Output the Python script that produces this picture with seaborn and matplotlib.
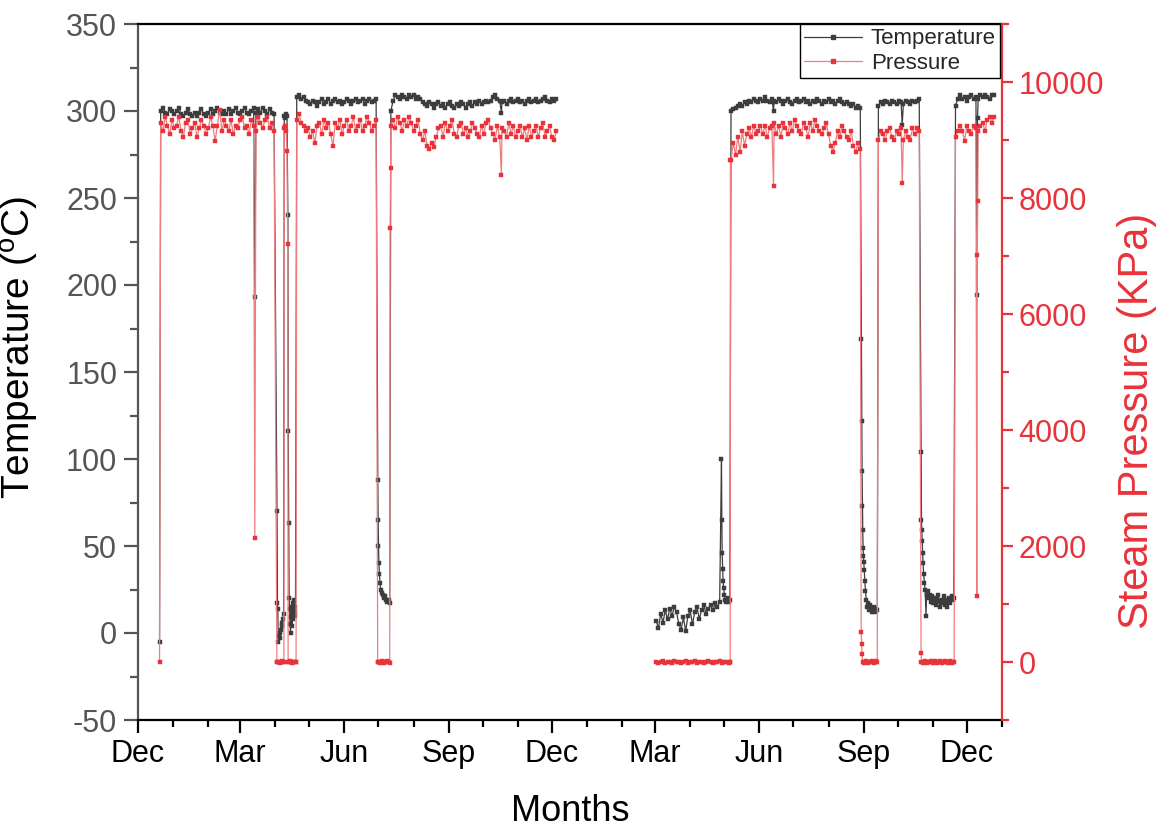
import numpy as np
import pandas as pd
import matplotlib
matplotlib.use("Agg")
import matplotlib.pyplot as plt
import matplotlib.dates as mdates
from matplotlib.ticker import MultipleLocator
from matplotlib.lines import Line2D
import seaborn as sns

# ---------------- data ----------------
base_date = "2018-12-01"

# operating runs, one reading every 2 days
temp_run1 = [300, 302, 299, 298, 301, 300, 298, 300, 302, 298,
             297, 299, 301, 298, 297, 299, 297, 299, 301, 298,
             297, 299, 301, 298, 300, 302, 299, 298, 300, 298,
             301, 298, 300, 302, 299, 298, 300, 302, 299, 298,
             300, 302, 299, 301, 299, 302, 300, 298, 301, 299, 298]
pres_run1 = [9300, 9150, 9400, 9250, 9100, 9350, 9200, 9250, 9400, 9150,
             9050, 9300, 9350, 9100, 9200, 9300, 9050, 9200, 9350, 9250,
             9100, 9200, 9400, 9250, 8980, 9250, 9520, 9150, 9350, 9250,
             9150, 9350, 9100, 9250, 9200, 9350, 9400, 9200, 9250, 9100,
             9350, 9250, 9150, 9400, 9300, 9200, 9350, 9400, 9200, 9300, 9150]

temp_run2 = [308, 309, 307, 308, 306, 305, 304, 306, 305, 303,
             305, 307, 304, 305, 307, 304, 306, 307, 305, 306,
             304, 305, 307, 306, 304, 306, 307, 305, 306, 307,
             304, 306, 307, 305, 306, 307]
pres_run2 = [9350, 9450, 9300, 9250, 9150, 9200, 9050, 9150, 8950, 9250,
             9300, 9100, 9350, 9200, 9300, 9100, 8900, 9300, 9200, 9350,
             9100, 9250, 9350, 9150, 9250, 9400, 9150, 9250, 9350, 9150,
             9250, 9400, 9300, 9150, 9250, 9350]

temp_run3 = [300, 306, 309, 308, 307, 309, 308, 307, 309, 308,
             309, 307, 308, 307, 305, 304, 303, 305, 304, 302,
             304, 305, 303, 304, 302, 304, 305, 303, 302, 304,
             303, 305, 304, 302, 304, 305, 303, 305, 304, 306,
             304, 305, 306, 305, 306, 308, 309, 307, 306, 305,
             306, 304, 306, 307, 305, 306, 307, 305, 306, 304,
             306, 307, 305, 306, 307, 305, 306, 307, 308, 306,
             305, 307, 306, 307]
pres_run3 = [9250, 9350, 9200, 9400, 9300, 9150, 9350, 9250, 9400, 9300,
             9150, 9250, 9350, 9100, 9000, 9150, 8900, 8850, 8950, 8880,
             9050, 9200, 9250, 9050, 9300, 9150, 9250, 9350, 9100, 9050,
             9250, 9300, 9100, 9200, 9050, 9150, 9300, 9200, 9100, 9050,
             9250, 9100, 9300, 9350, 9200, 9100, 9000, 9250, 9050, 9200,
             9150, 9050, 9300, 9100, 9250, 9050, 9150, 9250, 9050, 9200,
             9000, 9250, 9050, 9150, 9250, 9050, 9200, 9300, 9050, 9150,
             9250, 9050, 9000, 9150]

temp_cold20 = [7, 3, 11, 6, 13, 8, 14, 10, 15, 12,
               5, 2, 9, 1, 10, 13, 5, 12, 15, 8,
               13, 16, 11, 14, 16, 13, 17, 15, 18]
pres_cold20 = [0, -20, 0, 10, -10, 0, 0, -20, 10, 0,
               0, -10, 0, 10, -20, 0, 0, 10, -10, 0,
               0, -20, 0, 10, 0, -10, 0, 0, 10, -20,
               0, 0, -10]

temp_run4 = [300, 301, 302, 303, 304, 303, 305, 304, 306, 305,
             307, 306, 305, 307, 306, 308, 306, 305, 307, 306,
             305, 307, 306, 304, 306, 307, 305, 304, 306, 307,
             305, 306, 307, 305, 306, 304, 306, 305, 307, 306,
             304, 306, 305, 307, 305, 306, 304, 306, 307, 305,
             304, 305, 304, 303, 304, 302, 303, 302]
pres_run4 = [8650, 8950, 8750, 9050, 8800, 9150, 8900, 9100, 9200, 9050,
             9250, 9100, 9150, 9250, 9100, 9250, 9050, 9200, 9250, 9300,
             9100, 9250, 9050, 9300, 9200, 9100, 9300, 9150, 9350, 9250,
             9150, 9100, 9300, 9200, 9050, 9300, 9150, 9350, 9250, 9150,
             9100, 9200, 9300, 9100, 8900, 8800, 8950, 9150, 9050, 9250,
             9150, 9050, 9000, 9150, 8900, 8800, 8950, 8850]

temp_run5 = [303, 305, 304, 306, 305, 304, 306, 305, 304, 306,
             305, 304, 306, 305, 304, 306, 305, 306, 307]
pres_run5 = [9000, 9150, 9100, 9000, 9150, 9200, 9050, 9000, 9150, 9100,
             9200, 9000, 9150, 9050, 9000, 9200, 9100, 9200, 9150]

temp_run6 = [303, 307, 309, 307, 308, 306, 308, 309, 307, 308,
             307, 309, 308, 309, 308, 307, 309, 309]
pres_run6 = [9050, 9150, 9250, 9150, 8990, 9250, 9150, 9100, 9250, 9200,
             9150, 9250, 9300, 9150, 9350, 9400, 9300, 9400]

# shutdown pressures, one reading a day
pres_off1 = [0, 0, -20, 0, 10, 0]
pres_off2 = [0, 10, 0, -10, 0, 0, 0]
pres_off3 = [0, -10, 0, 10, 0, -20, 0, 0, 10, 0, -10]
pres_off4 = [0, -10, 0, 10, 0, -20, 0, 0, 10, 0, -10, 0, 10, 0]
pres_off5 = [0, -10, 0, 10, 0, -20, 0, 0, 10, 0, -10, 0, 10, 0, -20,
             0, 10, 0, -10, 0, 0, 10, 0, -20, 0, 10, 0, -10, 0]

# start dates of the regular series
temp_run_starts = ["2018-12-21", "2019-04-20", "2019-07-12", "2020-03-02",
                   "2020-05-07", "2020-09-14", "2020-11-21"]
pres_run_starts = ["2018-12-21", "2019-04-20", "2019-07-12", "2020-03-02",
                   "2020-05-07", "2020-09-14", "2020-11-21"]
pres_off_starts = ["2019-04-03", "2019-04-13", "2019-07-01", "2020-08-31", "2020-10-22"]

# transients (day offsets from base_date)
temp_evt_day = [19, 103,
                122.6, 123.0, 123.3, 123.7, 124.2, 124.8, 125.4, 126.0, 126.6, 127.2, 127.8, 128.4,
                129.0, 129.8, 130.6, 131.4, 132.2, 132.5, 132.9, 133.3,
                133.7, 134.1, 134.5, 134.9, 135.3, 135.7, 136.1, 136.5, 136.9, 137.3, 137.7,
                138.1, 138.5, 138.9,
                211.5, 211.8, 212.1, 212.5, 212.9, 213.4, 214, 215, 216, 217, 218, 219, 220, 221, 222,
                320.5,
                514.6, 514.9, 515.2, 515.6, 516.0, 516.5, 517.2, 518, 519, 520, 521, 522,
                560.5,
                638.0, 638.3, 638.6, 638.9, 639.2, 639.5, 639.8, 640.1, 640.5, 641.0, 641.6,
                642.3, 643, 644, 645, 646, 647, 648, 649, 650, 651, 652,
                674,
                690.7, 691.0, 691.3, 691.6, 692.0, 692.4, 692.9, 693.5, 694.2, 695, 695.5,
                696.5, 697.5, 698.5, 699.5, 700.5, 701.5, 702.5, 703.5, 704.5, 705.5, 706.5,
                707.5, 708.5, 709.5, 710.5, 711.5, 712.5, 713.5, 714.5, 715.5, 716.5, 717.5,
                718.5, 719.5,
                740, 740.4]
temp_evt_val = [-5, 193,
                70, 17, 14, -5, -2, 0, -3, 2, 4, 6, 8, 11,
                297, 296, 298, 297, 240, 116, 63, 20,
                14, 5, 0, 9, 15, 4, 11, 17, 8, 13, 19,
                10, 15, 12,
                88, 65, 50, 40, 34, 29, 25, 23, 22, 20, 21, 19, 18, 19, 17,
                299,
                100, 65, 46, 37, 30, 26, 22, 19, 18, 20, 18, 19,
                300,
                169, 122, 93, 73, 59, 49, 44, 41, 36, 30, 24,
                19, 15, 17, 13, 16, 12, 14, 15, 12, 14, 13,
                292,
                104, 65, 59, 53, 46, 40, 34, 29, 25, 10, 22,
                24, 20, 22, 18, 21, 17, 20, 16, 19, 22, 18,
                15, 19, 17, 21, 16, 19, 15, 18, 20, 17, 21,
                19, 20,
                194, 296]

pres_evt_day = [19, 103,
                122.5, 128.7, 129.0, 129.8, 130.6, 131.4, 132.0, 132.4, 139.4,
                211.4, 222.4, 222.7,
                320.5,
                521.8, 522.3, 522.5,
                560.5,
                637.8, 638.2, 638.6,
                674,
                690.6, 719.8,
                739.8, 740.2, 740.6]
pres_evt_val = [0, 2130,
                0, 0, 9200, 9250, 9150, 8810, 7200, 0, 0,
                0, 7490, 8520,
                8400,
                0, 0, 8650,
                8210,
                520, 310, 140,
                8260,
                150, 0,
                1130, 7020, 7950]

# ---------------- assemble ----------------
base = pd.Timestamp(base_date)


def assemble(runs, evt_day, evt_val):
    frames = []
    for start, step, vals in runs:
        d = pd.date_range(start, periods=len(vals), freq=f"{step}D")
        frames.append(pd.DataFrame({"date": d, "value": vals}))
    frames.append(pd.DataFrame({"date": base + pd.to_timedelta(evt_day, unit="D"),
                                "value": evt_val}))
    df = pd.concat(frames).sort_values("date").reset_index(drop=True)
    df["seg"] = np.where(df["date"] < pd.Timestamp("2020-01-01"), 0, 1)
    return df


temp_vals = [temp_run1, temp_run2, temp_run3, temp_cold20, temp_run4, temp_run5, temp_run6]
pres_vals = [pres_run1, pres_run2, pres_run3, pres_cold20, pres_run4, pres_run5, pres_run6]
pres_offs = [pres_off1, pres_off2, pres_off3, pres_off4, pres_off5]

temp_df = assemble([(s, 2, v) for s, v in zip(temp_run_starts, temp_vals)],
                   temp_evt_day, temp_evt_val)
pres_df = assemble([(s, 2, v) for s, v in zip(pres_run_starts, pres_vals)] +
                   [(s, 1, v) for s, v in zip(pres_off_starts, pres_offs)],
                   pres_evt_day, pres_evt_val)

# ---------------- style ----------------
sns.set_style("ticks")
plt.rcParams["font.family"] = ["Liberation Sans", "DejaVu Sans"]
plt.rcParams["mathtext.default"] = "regular"
plt.rcParams["axes.unicode_minus"] = False

GRAY = "#3d3d3d"
GRAY_AX = "#555555"
RED = "#e8333a"
RED_LINE = "#f07c80"

fig = plt.figure(figsize=(11.68, 8.36), dpi=100)
ax = fig.add_axes([138 / 1168, 1 - 720 / 836, (1002 - 138) / 1168, (720 - 24) / 836])
ax2 = ax.twinx()

sns.lineplot(data=temp_df, x="date", y="value", units="seg", estimator=None, ax=ax,
             color=GRAY, linewidth=0.9, marker="s", markersize=3.4,
             markerfacecolor=GRAY, markeredgecolor=GRAY, markeredgewidth=0.3,
             legend=False)
sns.lineplot(data=pres_df, x="date", y="value", units="seg", estimator=None, ax=ax2,
             color=RED_LINE, linewidth=0.9, marker="s", markersize=3.4,
             markerfacecolor=RED, markeredgecolor=RED, markeredgewidth=0.3,
             legend=False)

ax.set_xlim(pd.Timestamp("2018-12-01"), pd.Timestamp("2021-01-01"))
ax.set_ylim(-50, 350)
ax2.set_ylim(-1000, 11000)

ax.xaxis.set_major_locator(mdates.MonthLocator(bymonth=[3, 6, 9, 12]))
ax.xaxis.set_minor_locator(mdates.MonthLocator())
ax.xaxis.set_major_formatter(mdates.DateFormatter("%b"))
ax.yaxis.set_major_locator(MultipleLocator(50))
ax.yaxis.set_minor_locator(MultipleLocator(25))
ax2.yaxis.set_major_locator(MultipleLocator(2000))
ax2.yaxis.set_minor_locator(MultipleLocator(1000))

# spines
for sp in ["top", "bottom"]:
    ax.spines[sp].set_color("black")
    ax.spines[sp].set_linewidth(1.6)
ax.spines["left"].set_color(GRAY_AX)
ax.spines["left"].set_linewidth(1.6)
ax.spines["right"].set_visible(False)
for sp in ["top", "bottom", "left"]:
    ax2.spines[sp].set_visible(False)
ax2.spines["right"].set_color(RED)
ax2.spines["right"].set_linewidth(1.6)

ax.tick_params(axis="x", which="major", direction="out", length=9, width=1.6,
               colors="black", labelsize=22, pad=5, top=False)
ax.tick_params(axis="x", which="minor", direction="out", length=5, width=1.6,
               colors="black", top=False)
ax.tick_params(axis="y", which="major", direction="out", length=10, width=1.6,
               colors=GRAY_AX, labelsize=22, pad=5)
ax.tick_params(axis="y", which="minor", direction="out", length=6, width=1.6,
               colors=GRAY_AX)
ax2.tick_params(axis="y", which="major", direction="out", length=8, width=1.6,
                colors=RED, labelsize=22, pad=4)
ax2.tick_params(axis="y", which="minor", direction="out", length=5, width=1.6,
                colors=RED)

ax.set_xlabel("Months", fontsize=26, color="black", labelpad=18)
ax.set_ylabel(r"Temperature ($^{o}$C)", fontsize=28, color="black")
ax2.set_ylabel("Steam Pressure (KPa)", fontsize=30, color=RED)
# label placement (axes fraction)
ax.yaxis.set_label_coords(-0.112, 0.535)
ax2.yaxis.set_label_coords(1.133, 0.43)

handles = [Line2D([], [], color=GRAY, lw=0.9, marker="s", markersize=3.4,
                  markerfacecolor=GRAY, markeredgecolor=GRAY),
           Line2D([], [], color=RED_LINE, lw=0.9, marker="s", markersize=3.4,
                  markerfacecolor=RED, markeredgecolor=RED)]
leg = ax2.legend(handles, ["Temperature", "Pressure"], loc="upper right",
                 bbox_to_anchor=(0.998, 1.0), borderaxespad=0, frameon=True,
                 fancybox=False, edgecolor="black", framealpha=1,
                 prop={"family": "Liberation Sans", "size": 16},
                 handlelength=2.6, handletextpad=0.4, labelspacing=0.15,
                 borderpad=0.2, numpoints=1)
leg.get_frame().set_linewidth(1.0)

fig.savefig("out.png", dpi=100)
